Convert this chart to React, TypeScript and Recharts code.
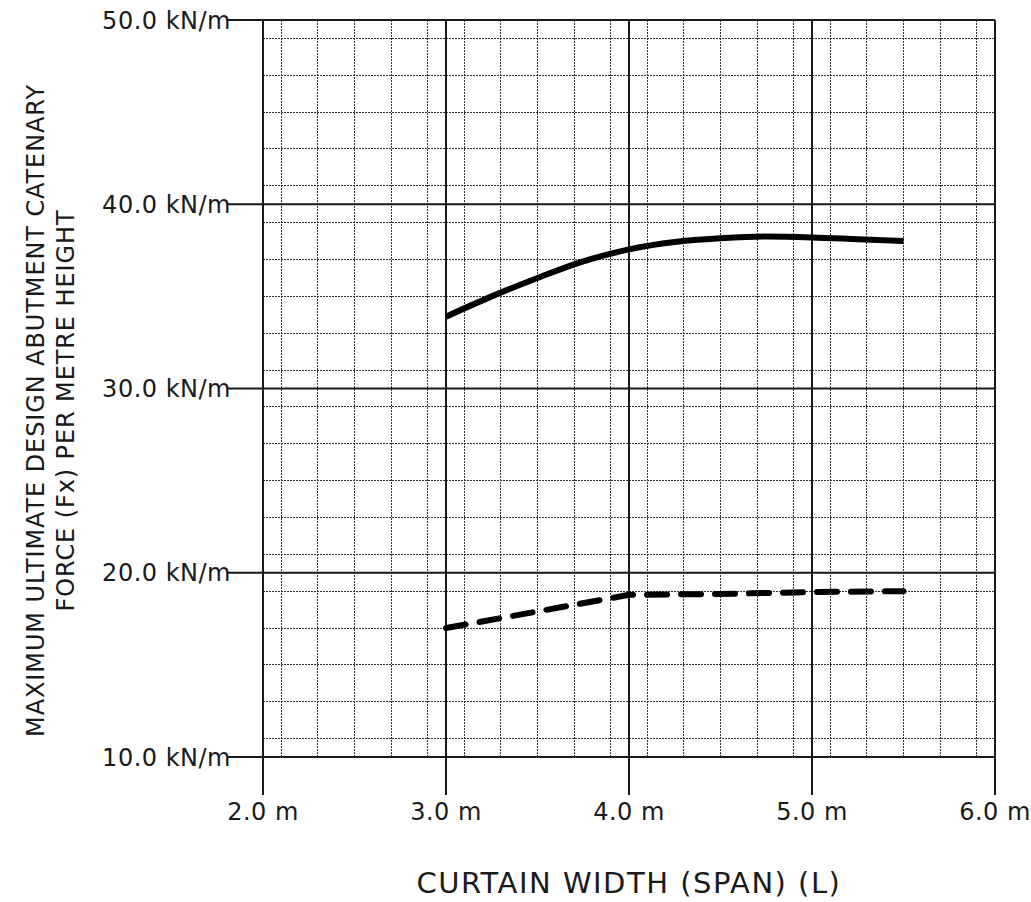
import React from 'react';
import { LineChart, Line, XAxis, YAxis, CartesianGrid, Label } from 'recharts';

// curtain width (m) and force (kN/m)
const upperSpan = [3.0, 3.25, 3.5, 3.75, 4.0, 4.25, 4.5, 4.75, 5.0, 5.25, 5.5];
const upperForce = [33.9, 35.0, 36.0, 36.9, 37.55, 37.95, 38.15, 38.25, 38.2, 38.1, 38.0];

const lowerSpan = [3.0, 3.5, 4.0, 4.5, 5.0, 5.5];
const lowerForce = [17.0, 17.9, 18.8, 18.85, 18.95, 19.0];

const xTicks = [2, 3, 4, 5, 6];
const yTicks = [10, 20, 30, 40, 50];

// minor grid every 0.1 m and 1 kN/m
const xMinor = Array.from({ length: 41 }, (_, i) => 2 + i / 10).filter((v, i) => i % 10 !== 0);
const yMinor = Array.from({ length: 41 }, (_, i) => 10 + i).filter((v, i) => i % 10 !== 0);

const upperData = upperSpan.map((span, i) => ({ span, force: upperForce[i] }));
const lowerData = lowerSpan.map((span, i) => ({ span, force: lowerForce[i] }));

const FONT = '"DejaVu Sans", Verdana, sans-serif';
const INK = '#1a1a1a';

const YTick = ({ x, y, payload }: any) => (
  <text x={x + 3} y={y} dy="0.355em" textAnchor="end" fill={INK} fontFamily={FONT} fontSize={24} letterSpacing={0.5}>
    {payload.value.toFixed(1)} kN/m
  </text>
);

const XTick = ({ x, y, payload }: any) => (
  <text x={x} y={y} dy="0.71em" textAnchor="middle" fill={INK} fontFamily={FONT} fontSize={24} letterSpacing={0.5}>
    {payload.value.toFixed(1)} m
  </text>
);

const YTitle = ({ viewBox }: any) => {
  const cy = viewBox.y + viewBox.height / 2 + 22;
  const x1 = viewBox.x + 36;
  const x2 = viewBox.x + 66;
  const common = { textAnchor: 'middle' as const, dominantBaseline: 'central' as const, fill: INK, fontFamily: FONT, fontSize: 24, letterSpacing: 0.9 };
  return (
    <g>
      <text x={x1} y={cy} transform={`rotate(-90 ${x1} ${cy})`} {...common}>
        MAXIMUM ULTIMATE DESIGN ABUTMENT CATENARY
      </text>
      <text x={x2} y={cy} transform={`rotate(-90 ${x2} ${cy})`} {...common}>
        FORCE (Fx) PER METRE HEIGHT
      </text>
    </g>
  );
};

const App = () => {
  return (
    <div style={{ position: 'absolute', left: 0, top: 0, background: '#fff' }}>
      <LineChart width={1031} height={902} margin={{ top: 20, right: 36, bottom: 0, left: 0 }}>
        <CartesianGrid
          horizontalValues={yMinor}
          verticalValues={xMinor}
          stroke="#333"
          strokeDasharray="2 1"
          strokeWidth={1}
          shapeRendering="crispEdges"
        />
        <CartesianGrid
          horizontalValues={yTicks}
          verticalValues={xTicks}
          stroke={INK}
          strokeWidth={2}
        />
        <XAxis
          dataKey="span"
          type="number"
          domain={[2, 6]}
          ticks={xTicks}
          allowDataOverflow
          height={145}
          axisLine={false}
          tickSize={38}
          tickMargin={8}
          tickLine={{ stroke: INK, strokeWidth: 2 }}
          tick={<XTick />}
        >
          <Label
            value="CURTAIN WIDTH (SPAN) (L)"
            position="insideBottom"
            offset={9}
            fill={INK}
            fontFamily={FONT}
            fontSize={29}
            letterSpacing={1.5}
          />
        </XAxis>
        <YAxis
          type="number"
          domain={[10, 50]}
          ticks={yTicks}
          allowDataOverflow
          width={263}
          axisLine={false}
          tickSize={35}
          tickMargin={0}
          tickLine={{ stroke: INK, strokeWidth: 2 }}
          tick={<YTick />}
        >
          <Label content={<YTitle />} />
        </YAxis>
        <Line
          data={upperData}
          dataKey="force"
          type="monotone"
          stroke="#000"
          strokeWidth={6}
          dot={false}
          activeDot={false}
          isAnimationActive={false}
        />
        <Line
          data={lowerData}
          dataKey="force"
          type="linear"
          stroke="#000"
          strokeWidth={6}
          strokeDasharray="20 14"
          strokeLinecap="round"
          dot={false}
          activeDot={false}
          isAnimationActive={false}
        />
      </LineChart>
    </div>
  );
};

export default App;
